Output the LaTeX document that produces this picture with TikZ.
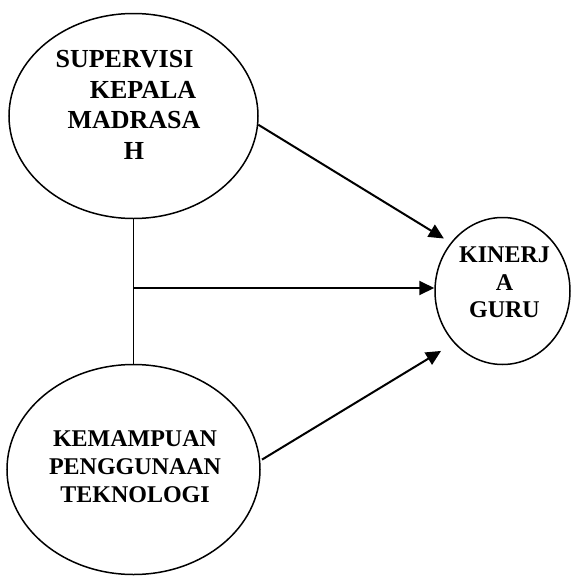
\documentclass[tikz,border=0pt]{standalone}
\usepackage{fontspec}
\setmainfont{Liberation Serif}
\usetikzlibrary{shapes,arrows.meta}
\tikzstyle{elips} = [ellipse, draw, line width=1.5pt, inner sep=0pt]
\tikzstyle{teks} = [align=center, inner sep=0pt, font=\bfseries\fontsize{24}{28}\selectfont]
\tikzstyle{line} = [draw, line width=2pt, -{Triangle[length=15pt,width=14pt]}]

\begin{document}
\begin{tikzpicture}[x=1pt, y=-1pt]
	\useasboundingbox (0,0) rectangle (571,576);

		\node [elips, minimum width=249pt, minimum height=205pt] (supervisi) at (133.5,116) {};
		\node [elips, minimum width=253pt, minimum height=210pt] (kemampuan) at (133.5,469.5) {};
		\node [elips, minimum width=135pt, minimum height=147pt] (kinerja) at (502.5,291) {};

		\node [teks, font=\bfseries\fontsize{26}{30.5}\selectfont] (supervisiteks) at (134,105) {SUPERVISI\rule{19pt}{0pt}\\\rule{18pt}{0pt}KEPALA\\MADRASA\\H};
		\node [teks] (kemampuanteks) at (135,467) {KEMAMPUAN\\PENGGUNAAN\\TEKNOLOGI};
		\node [teks, font=\bfseries\fontsize{24}{27.5}\selectfont] (kinerjateks) at (504.5,282.5) {KINERJ\\A\\GURU};

		\draw [line width=1.5pt] (supervisi.south) -- (kemampuan.north);
		\coordinate (cabang) at (133.5,288);
		\path [line] (cabang) -- (cabang -| kinerja.west);
		\path [line, shorten >=8pt] (supervisi.-4) -- (kinerja.137);
		\path [line, shorten <=2pt, shorten >=15pt] (kemampuan.4) -- (kinerja.227);
	\end{tikzpicture}
\end{document}
